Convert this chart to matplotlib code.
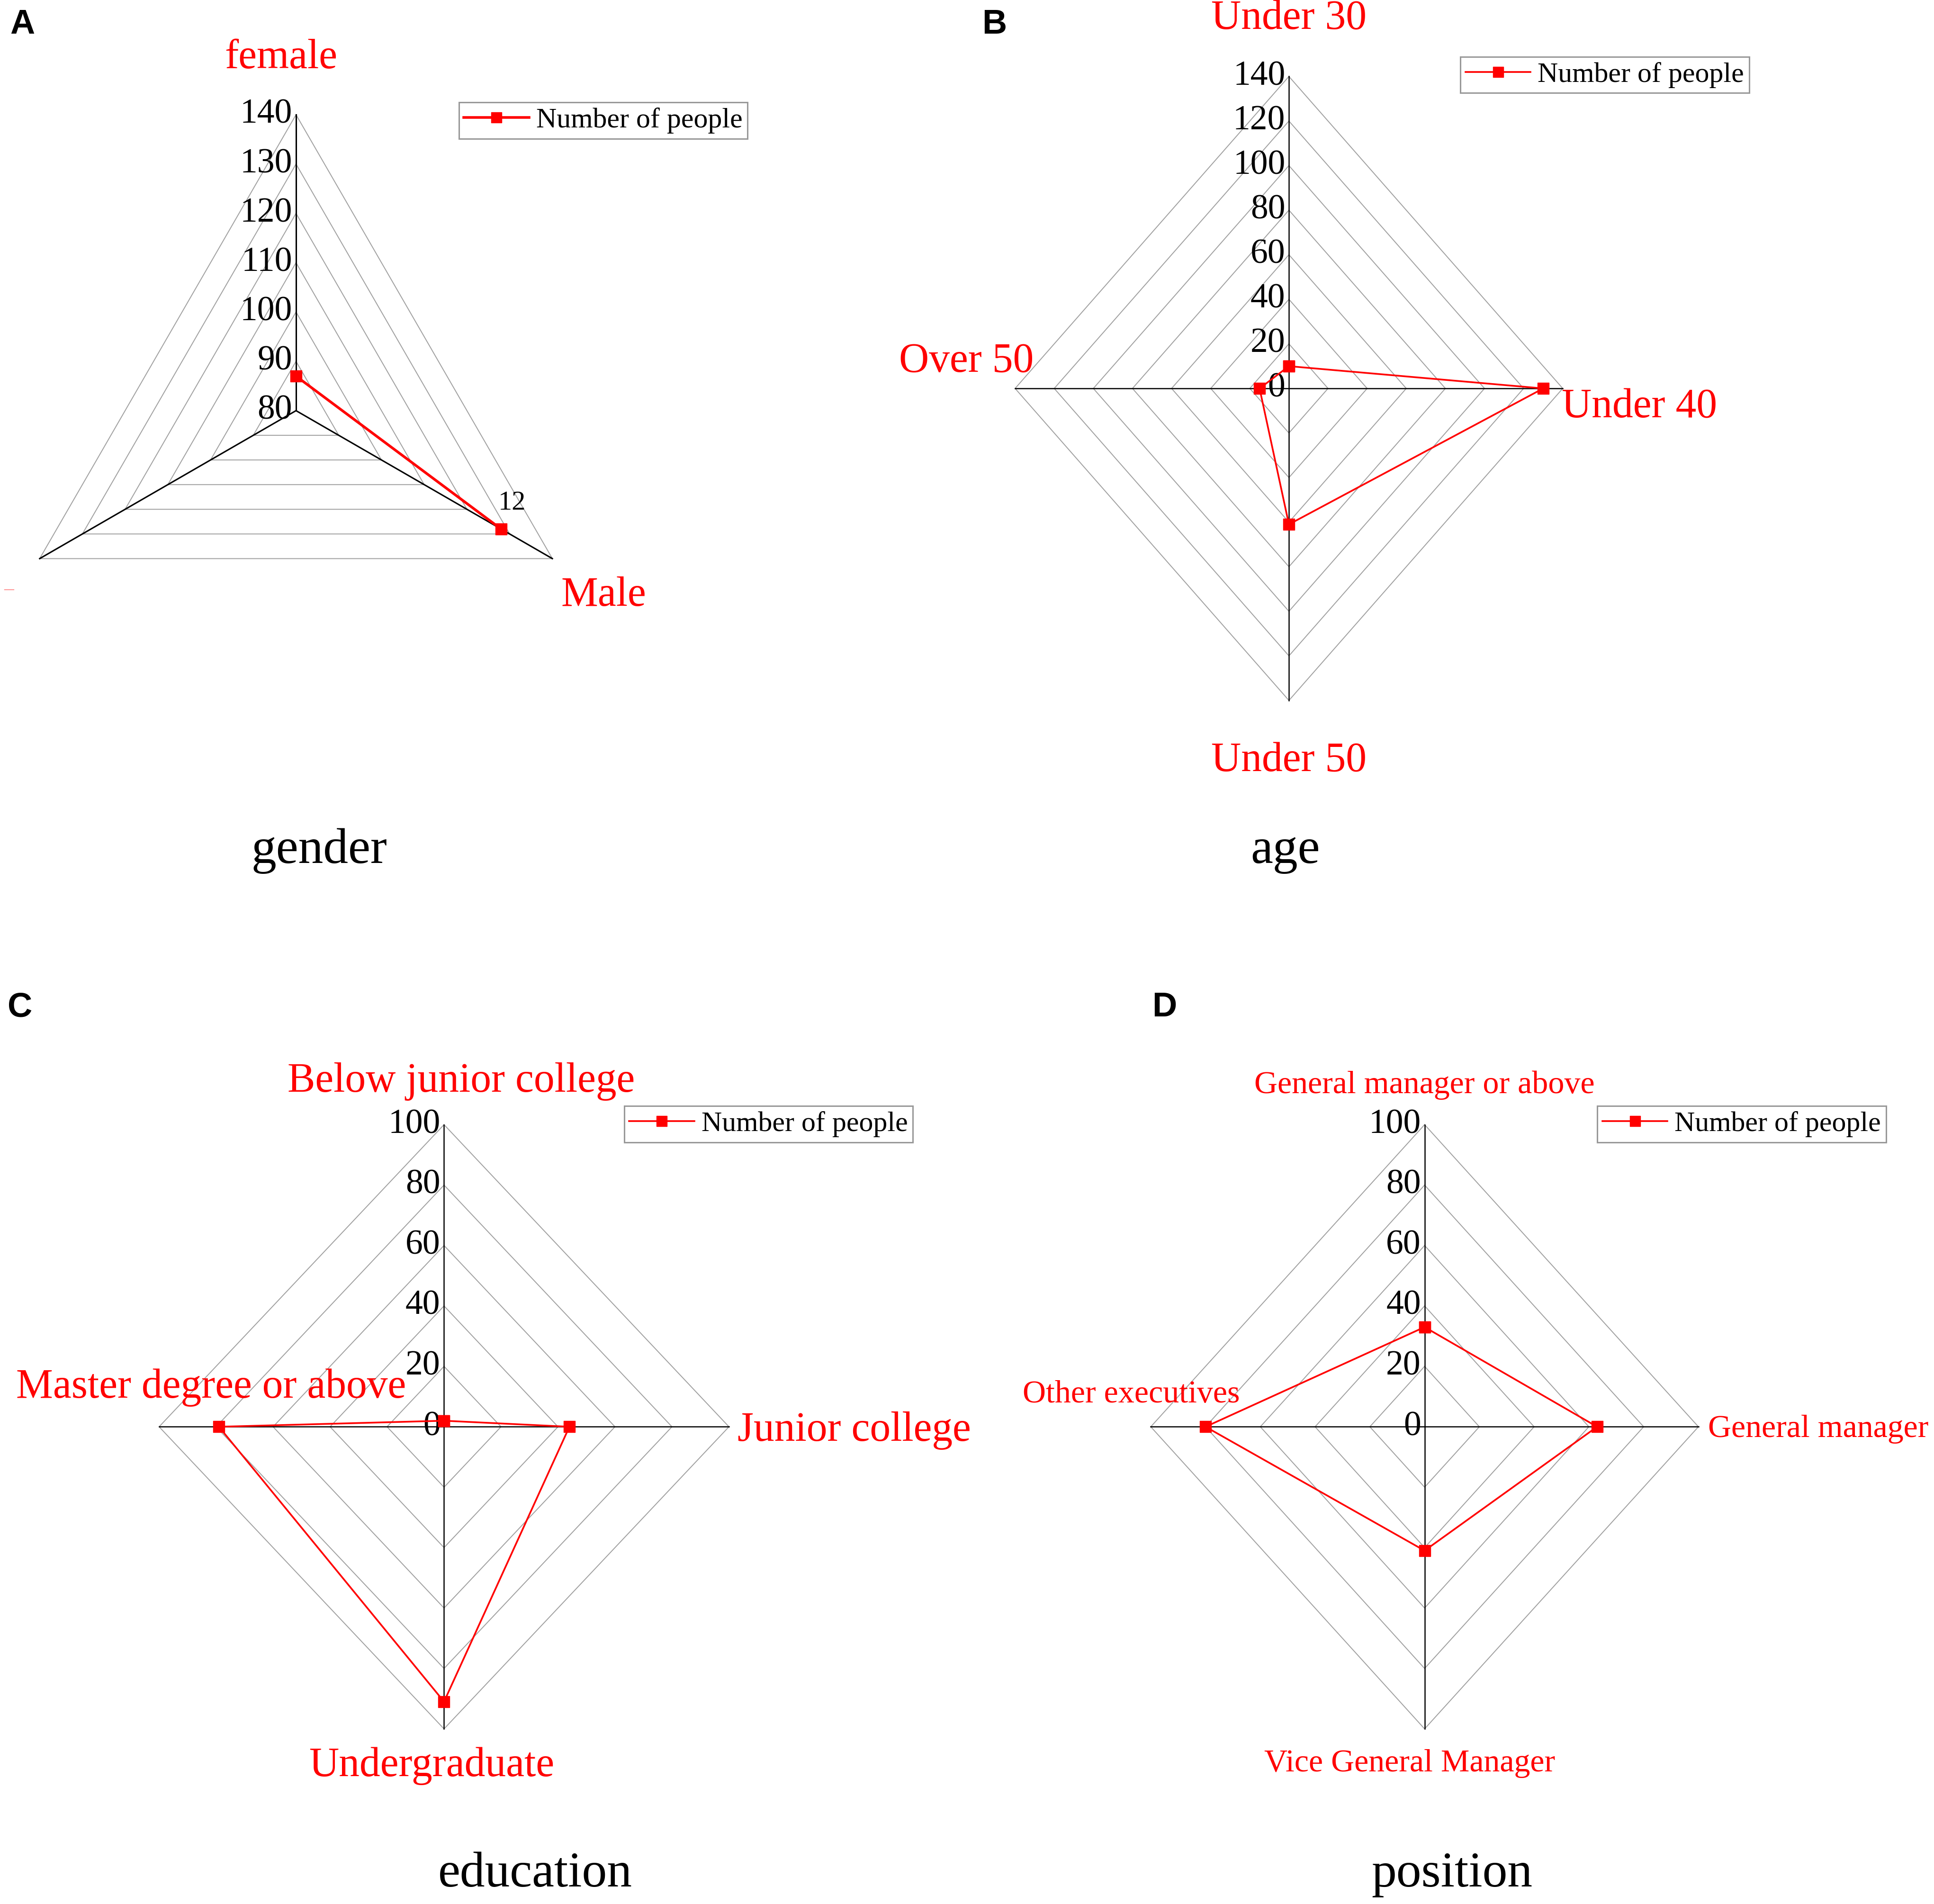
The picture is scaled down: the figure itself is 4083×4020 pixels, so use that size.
import numpy as np
import matplotlib
matplotlib.use("Agg")
import matplotlib.pyplot as plt

# Data
gender_cats = ["female", "Male", ""]
gender_vals = [87, 128, None]
gender_ticks = [80, 90, 100, 110, 120, 130, 140]

age_cats = ["Under 30", "Under 40", "Under 50", "Over 50"]
age_vals = [10, 130, 61, 15]
age_ticks = [0, 20, 40, 60, 80, 100, 120, 140]

edu_cats = ["Below junior college", "Junior college", "Undergraduate", "Master degree or above"]
edu_vals = [2, 44, 91, 79]
edu_ticks = [0, 20, 40, 60, 80, 100]

pos_cats = ["General manager or above", "General manager", "Vice General Manager", "Other executives"]
pos_vals = [33, 63, 41, 80]
pos_ticks = [0, 20, 40, 60, 80, 100]

series_name = "Number of people"

plt.rcParams['font.family'] = ['Liberation Serif', 'DejaVu Serif']

# layout is worked out on a 1568x1544 grid, then scaled to the 4083x4020 output
PW, PH = 1568, 1544
PT = 1.875  # points per layout pixel at dpi 100
GRID = '#a0a0a0'

fig = plt.figure(figsize=(40.83, 40.20), dpi=100)


def radar(center, rx, ry, cats, vals, ticks, offsets, label_size, legend_xy,
          close=True, lw=2.6, spoke_lw=1.8):
    cx, cy = center
    ax = fig.add_axes([(cx - rx) / PW, 1 - (cy + ry) / PH, 2 * rx / PW, 2 * ry / PH])
    ax.set_xlim(-1, 1)
    ax.set_ylim(-1, 1)
    ax.axis('off')

    n = len(cats)
    ang = np.arange(n) * 2 * np.pi / n
    lo, hi = ticks[0], ticks[-1]

    # polygon rings
    for t in ticks[1:]:
        r = (t - lo) / (hi - lo)
        xs = np.append(r * np.sin(ang), r * np.sin(ang[0]))
        ys = np.append(r * np.cos(ang), r * np.cos(ang[0]))
        ax.plot(xs, ys, color=GRID, lw=1.4, clip_on=False, zorder=1)

    # spokes
    for a in ang:
        ax.plot([0, np.sin(a)], [0, np.cos(a)], color='black', lw=spoke_lw,
                clip_on=False, zorder=2)

    # tick labels on the top spoke
    for t in ticks:
        r = (t - lo) / (hi - lo)
        ax.annotate(str(t), (0, r), xytext=(-3 * PT, 0), textcoords='offset points',
                    ha='right', va='center', fontsize=53, color='black', zorder=3)

    # data line
    idx = [i for i, v in enumerate(vals) if v is not None]
    rr = np.array([(vals[i] - lo) / (hi - lo) for i in idx])
    aa = ang[idx]
    xs = rr * np.sin(aa)
    ys = rr * np.cos(aa)
    if close:
        xs = np.append(xs, xs[0])
        ys = np.append(ys, ys[0])
    ax.plot(xs, ys, color='#ff0000', lw=lw, marker='s', ms=17, label=series_name,
            clip_on=False, zorder=4)

    # category labels
    for a, c, (dx, dy, ha) in zip(ang, cats, offsets):
        if not c:
            continue
        ax.annotate(c, (np.sin(a), np.cos(a)), xytext=(dx * PT, -dy * PT),
                    textcoords='offset points', ha=ha, va='center',
                    color='#ff0000', fontsize=label_size)

    leg = ax.legend(loc='upper left', bbox_to_anchor=(legend_xy[0] / PW, 1 - legend_xy[1] / PH),
                    bbox_transform=fig.transFigure, fontsize=43, frameon=True,
                    fancybox=False, edgecolor='#808080', borderpad=0.18,
                    borderaxespad=0, handlelength=2.3, handletextpad=0.25,
                    markerscale=0.95)
    leg.get_frame().set_linewidth(2.2)
    return ax


# A: gender
radar((240, 333), 240, 240, gender_cats, gender_vals, gender_ticks,
      [(-12, -46, 'center'), (7, 30, 'left'), (0, 0, 'center')], 63, (372, 83),
      close=False, lw=4.0, spoke_lw=2.2)
fig.text(415 / PW, 1 - 408 / PH, "12", fontsize=42, ha='center', va='center')
fig.text(7 / PW, 1 - 478 / PH, "\u2013", fontsize=30, ha='center', va='center', color='#ff8080')

# B: age
radar((1045, 315), 222, 253, age_cats, age_vals, age_ticks,
      [(0, -47, 'center'), (-1, 15, 'left'), (0, 49, 'center'), (15, -22, 'right')],
      63, (1184, 46))

# C: education
radar((360, 1157), 231, 245, edu_cats, edu_vals, edu_ticks,
      [(14, -35, 'center'), (7, 3, 'left'), (-10, 30, 'center'), (42, -32, 'center')],
      63, (506, 897))

# D: position
radar((1155, 1157), 222, 245, pos_cats, pos_vals, pos_ticks,
      [(0, -32, 'center'), (8, 2, 'left'), (-12, 28, 'center'), (-16, -26, 'center')],
      49, (1295, 897))

# panel letters and titles
for letter, x, y in [("A", 18, 20), ("B", 806, 20), ("C", 16, 817), ("D", 944, 817)]:
    fig.text(x / PW, 1 - y / PH, letter, fontsize=52, fontweight='bold',
             family='Liberation Sans', ha='center', va='center')

for title, x, y in [("gender", 259, 690), ("age", 1042, 690),
                    ("education", 434, 1520), ("position", 1177, 1520)]:
    fig.text(x / PW, 1 - y / PH, title, fontsize=76, ha='center', va='center')

fig.savefig("out.png", dpi=100, facecolor='white')
